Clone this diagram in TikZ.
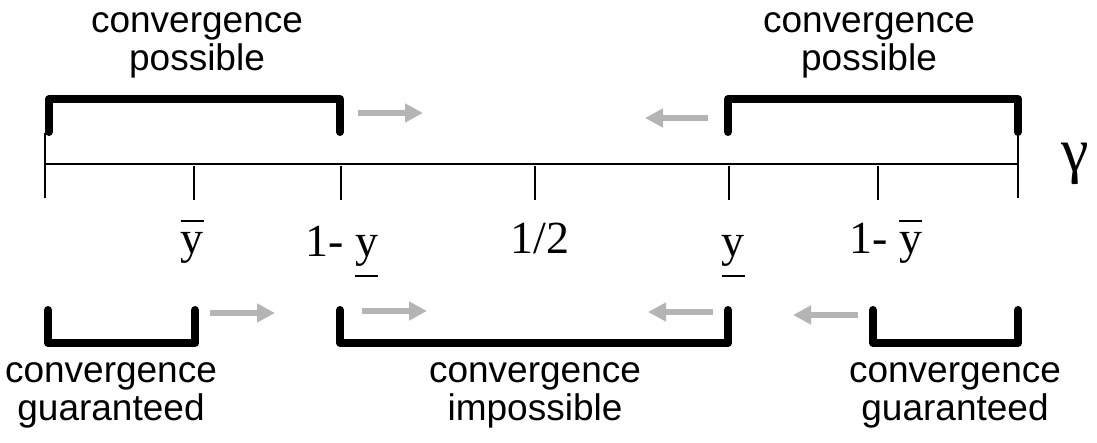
\documentclass[tikz,border=0pt]{standalone}
\usepackage{fontspec}
\setmainfont{Liberation Serif}
\setsansfont{Liberation Sans}
\usepackage{tikz}
\usetikzlibrary{positioning,arrows.meta}
\usepackage{xcolor}
\definecolor{FlowGray}{RGB}{180,180,180}

\newcommand{\ybar}{\leavevmode\vbox{\hrule height 2pt\kern 11pt\hbox{y}}}
\newcommand{\yund}{\leavevmode\vtop{\hbox{y}\kern 8pt\hrule height 2pt}}

\begin{document}
\begin{tikzpicture}[x=1pt,y=-1pt,
tick/.style={line width=1.5pt},
bracket/.style={line width=8pt,line cap=round,line join=round},
flow/.style={-{Triangle[length=18pt,width=18pt]},line width=6pt,draw=FlowGray},
lbl/.style={font=\fontsize{37}{38}\selectfont\sffamily,align=center,anchor=base,inner sep=0pt},
val/.style={font=\fontsize{46}{48}\selectfont,anchor=base,inner sep=0pt}
]
\useasboundingbox (0,0) rectangle (1097,443);

% axis and ticks
\coordinate (p0) at (45,164);
\coordinate (pyb) at (194,164);
\coordinate (p1my) at (341,164);
\coordinate (phalf) at (535,164);
\coordinate (pyu) at (729,164);
\coordinate (p1myb) at (878,164);
\coordinate (p1) at (1018,164);
\draw[tick] (p0) -- (p1);
\draw[tick] (p0) ++(0,-31) -- ++(0,65);
\draw[tick] (p1) ++(0,-31) -- ++(0,65);
\foreach \p in {pyb,p1my,phalf,pyu,p1myb}
  \draw[tick] (\p) ++(0,2) -- ++(0,34);
\node[val,font=\fontsize{62}{64}\selectfont] (gam) at (1075,172) {γ};

% values under the axis
\node[val] (lyb) at (192,254) {\ybar};
\node[val] (l1my) at (342,257) {1- \yund};
\node[val] (lhalf) at (540,254) {1/2};
\node[val] (lyu) at (733,257) {\yund};
\node[val] (l1myb) at (886,254) {1- \ybar};

% regions above
\draw[bracket] (49,132) -- (49,99) -- (340,99) -- (340,132);
\draw[bracket] (728,132) -- (728,99) -- (1018,99) -- (1018,132);
\node[lbl] (poss1) at (197,71) {convergence\\possible};
\node[lbl] (poss2) at (869,71) {convergence\\possible};

% regions below
\draw[bracket] (48,310) -- (48,343) -- (195,343) -- (195,310);
\draw[bracket] (340,310) -- (340,343) -- (728,343) -- (728,310);
\draw[bracket] (873,310) -- (873,343) -- (1018,343) -- (1018,310);
\node[lbl] (guar1) at (111,420) {convergence\\guaranteed};
\node[lbl] (imp) at (535,420) {convergence\\impossible};
\node[lbl] (guar2) at (955,420) {convergence\\guaranteed};

% drift arrows
\coordinate (f1a) at (358,113); \coordinate (f1b) at (423,113);
\coordinate (f2a) at (708,118); \coordinate (f2b) at (645,118);
\coordinate (f3a) at (210,313); \coordinate (f3b) at (275,313);
\coordinate (f4a) at (362,311); \coordinate (f4b) at (427,311);
\coordinate (f5a) at (713,312); \coordinate (f5b) at (648,312);
\coordinate (f6a) at (858,315); \coordinate (f6b) at (793,315);
\foreach \f in {1,...,6}
  \draw[flow] (f\f a) -- (f\f b);
\end{tikzpicture}
\end{document}
